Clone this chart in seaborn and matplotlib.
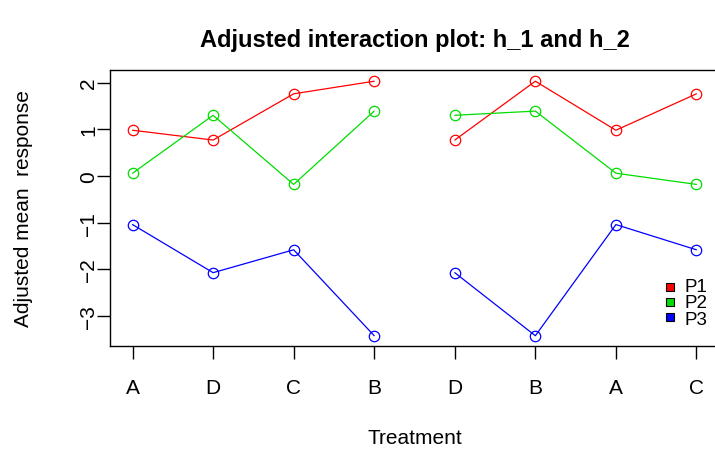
import matplotlib
matplotlib.use("Agg")
import matplotlib.pyplot as plt
from matplotlib.patches import Rectangle
import seaborn as sns
import pandas as pd

# Treatment orderings for the two halves (h_1 and h_2)
order_h1 = ["A", "D", "C", "B"]
order_h2 = ["D", "B", "A", "C"]

# Adjusted mean response per treatment, for each profile
treatments = ["A", "B", "C", "D"]
p1 = [0.98, 2.03, 1.76, 0.77]
p2 = [0.06, 1.39, -0.18, 1.30]
p3 = [-1.04, -3.42, -1.58, -2.07]
profiles = ["P1", "P2", "P3"]
colors = ["#FF0000", "#00DD00", "#0000FF"]
y_ticks = [-3, -2, -1, 0, 1, 2]

means = {name: dict(zip(treatments, vals)) for name, vals in zip(profiles, [p1, p2, p3])}

rows = []
tick_labels = order_h1 + order_h2
for half, order in (("h_1", order_h1), ("h_2", order_h2)):
    offset = 0 if half == "h_1" else len(order_h1)
    for i, trt in enumerate(order):
        for name in profiles:
            rows.append({"pos": offset + i + 1, "treatment": trt, "half": half,
                         "profile": name, "response": means[name][trt]})
df = pd.DataFrame(rows)

sns.set_theme(style="white")
plt.rcParams["font.family"] = ["Liberation Sans", "DejaVu Sans"]
plt.rcParams["text.color"] = "black"
plt.rcParams["axes.labelcolor"] = "black"
plt.rcParams["xtick.color"] = "black"
plt.rcParams["ytick.color"] = "black"

W, H = 715, 452
fig = plt.figure(figsize=(W / 100, H / 100), dpi=100)
ax = fig.add_axes([110 / W, 105 / H, 609 / W, 276 / H])

sns.lineplot(data=df, x="pos", y="response", hue="profile", units="half",
             estimator=None, palette=colors, hue_order=profiles, sort=False,
             marker="o", markersize=7.5, markerfacecolor="none",
             markeredgewidth=0.9, linewidth=0.9, legend=False, ax=ax)
# marker edges follow line colour
for line in ax.get_lines():
    line.set_markeredgecolor(line.get_color())

ax.set_xlim(0.72, 8.28)
ax.set_ylim(-3.64, 2.27)
ax.set_xticks(range(1, len(tick_labels) + 1))
ax.set_xticklabels(tick_labels)
ax.set_yticks(y_ticks)
ax.set_yticklabels([str(v).replace("-", "\u2212") for v in y_ticks],
                   rotation=90, va="center")

for side in ("left", "right", "top", "bottom"):
    ax.spines[side].set_visible(True)
    ax.spines[side].set_color("black")
    ax.spines[side].set_linewidth(1.0)
ax.tick_params(axis="both", which="major", direction="out", length=9.4, width=1,
               color="black", labelsize=15, bottom=True, left=True)
ax.tick_params(axis="x", pad=13.5)
ax.tick_params(axis="y", pad=-1)

ax.set_xlabel("Treatment", fontsize=15)
ax.set_ylabel("Adjusted mean  response", fontsize=15)
ax.xaxis.set_label_coords(0.5, (347 - 429) / 276)
ax.yaxis.set_label_coords((33 - 110) / 609, 0.5)
ax.set_title("Adjusted interaction plot: h_1 and h_2", fontsize=17,
             fontweight="bold", pad=17.5)

# legend: small filled squares beside a tightly stacked block of labels
row_step = 15
for k, col in enumerate(colors):
    yc = 288 + row_step * k
    fig.patches.append(Rectangle(((670 - 4) / W, 1 - (yc + 4) / H), 8 / W, 8 / H,
                                 transform=fig.transFigure, facecolor=col,
                                 edgecolor="black", linewidth=0.8))
fig.text(685 / W, 1 - (289 + row_step) / H, "\n".join(profiles), fontsize=13.5,
         va="center", ha="left", linespacing=0.93)

fig.savefig("out.png", dpi=100)
